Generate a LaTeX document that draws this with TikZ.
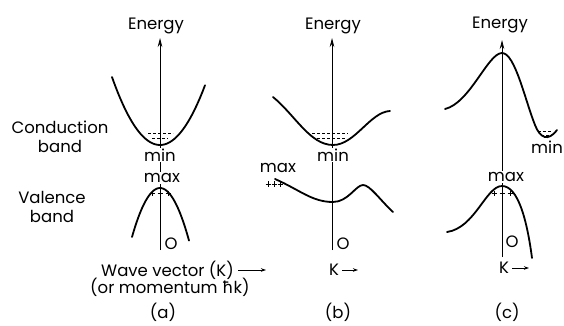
\documentclass[tikz,border=0pt]{standalone}
\usepackage{fontspec}
\setmainfont{Poppins}
\newfontfamily\hbarfont{DejaVu Sans}
\usetikzlibrary{arrows.meta, positioning}

\begin{document}
\begin{tikzpicture}[
        x=1pt, y=-1pt,
        lbl/.style={font=\fontsize{16.5}{18.5}\selectfont, inner sep=1pt},
        tag/.style={lbl, fill=white},
        band/.style={line width=1.8pt, line cap=round},
        axis/.style={line width=0.8pt, -{Stealth[length=9pt, width=4.5pt]}},
        kaxis/.style={line width=0.9pt, -{Stealth[length=5pt, width=3.5pt]}},
        electrons/.style={line width=0.7pt, dash pattern=on 3pt off 2pt},
        hole/.style={line width=0.6pt}
    ]
    \useasboundingbox (0,0) rectangle (564,326);

    % energy axes
    \coordinate (axbotA) at (160,250);
    \coordinate (axtopA) at (160,38);
    \coordinate (axbotB) at (332,250);
    \coordinate (axtopB) at (332,38);
    \coordinate (axbotC) at (502,257);
    \coordinate (axtopC) at (502,40);
    \draw[axis] (axbotA) -- (axtopA);
    \draw[axis] (axbotB) -- (axtopB);
    \draw[axis] (axbotC) -- (axtopC);

    \node (energyA) [lbl] at (156,26) {Energy};
    \node (energyB) [lbl] at (333,26) {Energy};
    \node (energyC) [lbl] at (500,25) {Energy};

    % (a) direct gap
    \draw[band] plot[domain=112:205, samples=40, smooth] (\x, {145-0.0295*(\x-160)^2});
    \draw[band] plot[domain=132:189, samples=30, smooth] (\x, {188+0.0625*(\x-160)^2});
    \draw[electrons] (148,133) -- (173,133);
    \draw[electrons] (152,138) -- (168,138);
    \foreach \hx in {152,160,168}
        \draw[hole] (\hx-2.5,193) -- (\hx+2.5,193) (\hx,190.5) -- (\hx,195.5);

    \node (condlabel) [lbl, align=center] at (60,137) {Conduction\\band};
    \node (vallabel) [lbl, align=center] at (52,207) {Valence\\band};
    \node (minA) [tag] at (160,155) {min};
    \node (maxA) [tag] at (162,178) {max};
    \node (zeroA) [lbl] at (171,244) {O};
    \node (wavevec) [lbl, anchor=west] at (100,270) {Wave vector (K)};
    \coordinate (wavevecend) at (266,270);
    \draw[kaxis] ([xshift=3pt]wavevec.east) -- (wavevecend);
    \node (momentum) [lbl, anchor=west] at (89,287) {(or momentum {\hbarfont ħ}k)};
    \node (capA) [lbl] at (163,312) {(a)};

    % (b) indirect gap
    \draw[band] (273,97) .. controls (295,115) and (310,145) .. (333,145)
        .. controls (355,145) and (370,112) .. (390,111);
    \draw[band] (275,179) .. controls (300,190) and (312,202) .. (333,202)
        .. controls (348,202) and (356,185) .. (363,185)
        .. controls (370,185) and (380,200) .. (393,212);
    \draw[electrons] (312,133) -- (348,133);
    \draw[electrons] (317,138) -- (345,138);
    \foreach \hx in {268,274,280}
        \draw[hole] (\hx-2.5,184) -- (\hx+2.5,184) (\hx,181) -- (\hx,187);

    \node (minB) [tag] at (333,155) {min};
    \node (maxB) [lbl] at (278,168) {max};
    \node (zeroB) [lbl] at (343,244) {O};
    \node (kB) [lbl] at (334,270) {K};
    \coordinate (kBend) at (358,270);
    \draw[kaxis] ([xshift=2pt]kB.east) -- (kBend);
    \node (capB) [lbl] at (338,312) {(b)};

    % (c) indirect gap, minimum away from K = 0
    \draw[band] (445,109) .. controls (470,103) and (488,53) .. (502,53)
        .. controls (515,53) and (525,100) .. (535,125)
        .. controls (540,138) and (548,142) .. (557,130);
    \draw[band] (447,232) .. controls (475,228) and (486,186) .. (502,186)
        .. controls (518,186) and (527,220) .. (532,258);
    \draw[electrons] (538,131) -- (552,131);
    \draw[electrons] (541,135) -- (549,135);
    \foreach \hx in {494,502,510}
        \draw[hole] (\hx-2.5,193) -- (\hx+2.5,193) (\hx,190.5) -- (\hx,195.5);

    \node (minC) [lbl] at (547,147) {min};
    \node (maxC) [tag] at (506,177) {max};
    \node (zeroC) [lbl] at (512,242) {O};
    \node (kC) [lbl] at (504,268) {K};
    \coordinate (kCend) at (529,268);
    \draw[kaxis] ([xshift=2pt]kC.east) -- (kCend);
    \node (capC) [lbl] at (507,312) {(c)};

\end{tikzpicture}
\end{document}
